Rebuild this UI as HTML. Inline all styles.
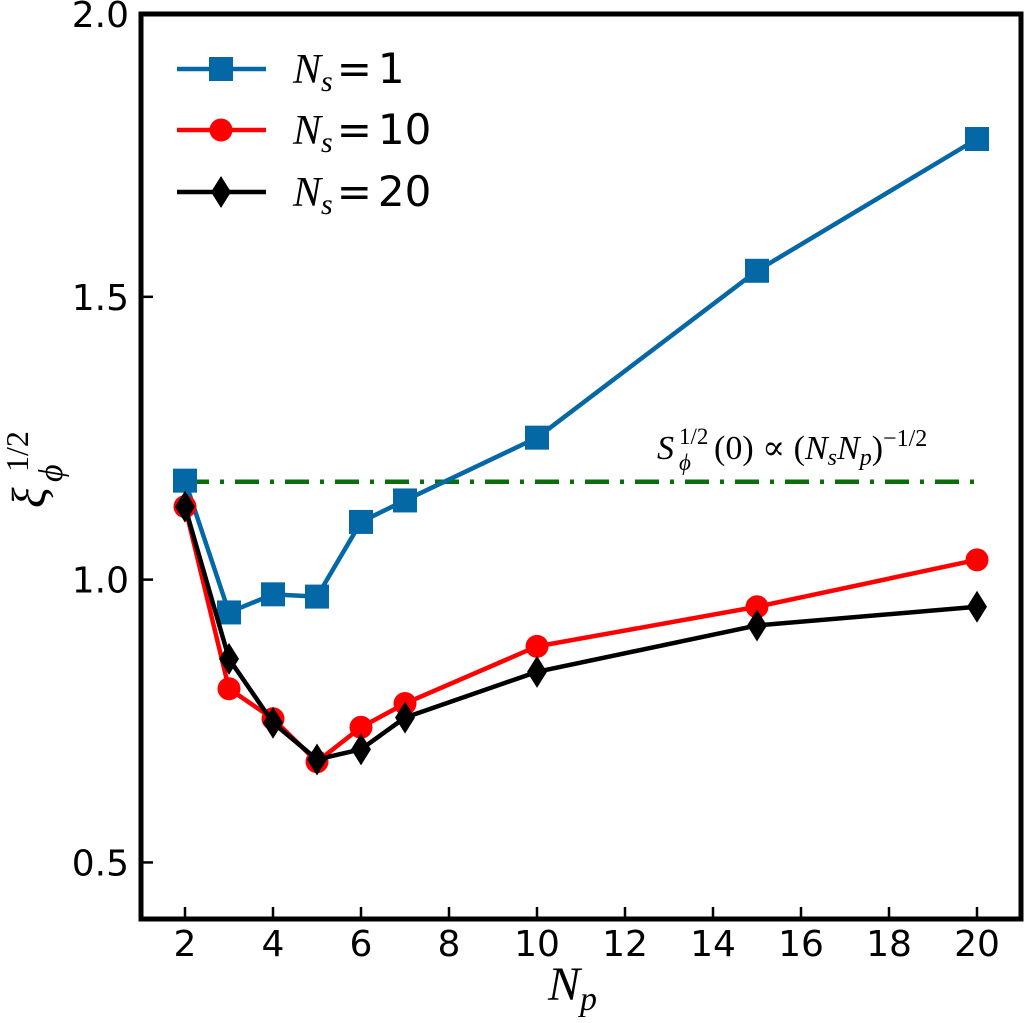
<!DOCTYPE html>
<html><head><meta charset="utf-8"><style>
html,body{margin:0;padding:0;background:#fff;}
svg{display:block;}
text{font-family:"DejaVu Sans","Liberation Sans",sans-serif;}
.serif{font-family:"Liberation Serif","DejaVu Serif",serif;font-style:italic;}
.rom{font-family:"Liberation Serif","DejaVu Serif",serif;}
</style></head><body>
<svg id="chart" width="1025" height="1023" viewBox="0 0 1025 1023">
<g id="plot"></g>
<g id="axes"></g>
<g>
  <g>
    <line x1="177" y1="69" x2="266" y2="69" stroke="#0568a6" stroke-width="4.5"/>
    <rect x="209" y="57" width="24" height="24" fill="#0568a6"/>
    <text x="293" y="83" font-size="42"><tspan class="serif">N</tspan><tspan class="serif" font-size="30" dy="8">s</tspan><tspan dy="-8" dx="4">=</tspan><tspan dx="6">1</tspan></text>
  </g>
  <g>
    <line x1="177" y1="130" x2="266" y2="130" stroke="#ff0000" stroke-width="4.5"/>
    <circle cx="221" cy="130" r="11.5" fill="#ff0000"/>
    <text x="293" y="144" font-size="42"><tspan class="serif">N</tspan><tspan class="serif" font-size="30" dy="8">s</tspan><tspan dy="-8" dx="4">=</tspan><tspan dx="6">10</tspan></text>
  </g>
  <g>
    <line x1="177" y1="192" x2="266" y2="192" stroke="#000" stroke-width="4.5"/>
    <polygon points="221,176 231,192 221,208 211,192" fill="#000"/>
    <text x="293" y="206" font-size="42"><tspan class="serif">N</tspan><tspan class="serif" font-size="30" dy="8">s</tspan><tspan dy="-8" dx="4">=</tspan><tspan dx="6">20</tspan></text>
  </g>
</g>
<g>
  <text x="657" y="459" font-size="34" class="serif">S</text>
  <text x="679" y="444" font-size="23" class="rom">1/2</text>
  <text x="679" y="470" font-size="23" class="serif">ϕ</text>
  <text x="714" y="459" font-size="34" class="rom">(0) ∝ (<tspan font-style="italic">N</tspan><tspan font-style="italic" font-size="24" dy="6">s</tspan><tspan font-style="italic" dy="-6">N</tspan><tspan font-style="italic" font-size="24" dy="6">p</tspan><tspan dy="-6">)</tspan><tspan font-size="24" dy="-13">−1/2</tspan></text>
</g>
<text x="548" y="1000" font-size="48"><tspan class="serif">N</tspan><tspan class="serif" font-size="34" dy="10">p</tspan></text>
<g transform="rotate(-90)">
  <text x="-508" y="45" font-size="48" class="serif">ξ</text>
  <text x="-482" y="62" font-size="34" class="serif">ϕ</text>
  <text x="-472" y="28" font-size="32" class="rom">1/2</text>
</g>
</svg>
<script>
const xs = [2,3,4,5,6,7,10,15,20];
const ns1 = [1.175,0.942,0.974,0.970,1.102,1.140,1.251,1.546,1.779];
const ns10 = [1.129,0.807,0.754,0.678,0.739,0.781,0.882,0.952,1.035];
const ns20 = [1.129,0.860,0.747,0.682,0.700,0.756,0.837,0.919,0.952];
const refLevel = 1.173;
const xTicks = [2,4,6,8,10,12,14,16,18,20];
const yTicks = [0.5,1.0,1.5,2.0];
const yTickLabels = ["0.5","1.0","1.5","2.0"];

const L=141,R=1021,T=14,B=919;
const X0=1,X1=21,Y0=0.4,Y1=2.0;
function sx(v){return L+(v-X0)/(X1-X0)*(R-L);}
function sy(v){return B-(v-Y0)/(Y1-Y0)*(B-T);}
const NS='http://www.w3.org/2000/svg';
function mk(tag,attrs,parent){const e=document.createElementNS(NS,tag);for(const k in attrs)e.setAttribute(k,attrs[k]);parent.appendChild(e);return e;}
const plot=document.getElementById('plot');
const axes=document.getElementById('axes');

const rl=mk('line',{x1:sx(2),x2:sx(20),y1:sy(refLevel),y2:sy(refLevel),stroke:'#0a6e0a','stroke-width':4.5,'stroke-dasharray':'24,11,4,11'},plot);



function series(vals,color,marker,name){
  const g=mk('g',{},plot);
  
  
  const pts=xs.map((x,i)=>sx(x)+','+sy(vals[i])).join(' ');
  const pl=mk('polyline',{points:pts,fill:'none',stroke:color,'stroke-width':4.5,'stroke-linejoin':'round'},g);
  
  
  xs.forEach((x,i)=>{
    const cx=sx(x),cy=sy(vals[i]);let m;
    if(marker==='s')m=mk('rect',{x:cx-12,y:cy-12,width:24,height:24,fill:color},g);
    else if(marker==='o')m=mk('circle',{cx:cx,cy:cy,r:11.5,fill:color},g);
    else m=mk('polygon',{points:`${cx},${cy-16} ${cx+10},${cy} ${cx},${cy+16} ${cx-10},${cy}`,fill:color},g);
    
    
  });
}
series(ns1,'#0568a6','s','series-ns1');
series(ns10,'#ff0000','o','series-ns10');
series(ns20,'#000000','d','series-ns20');

const fr=mk('rect',{x:L,y:T,width:R-L,height:B-T,fill:'none',stroke:'#000','stroke-width':5},axes);


xTicks.forEach(v=>{
  const t=mk('line',{x1:sx(v),x2:sx(v),y1:B,y2:B-12,stroke:'#000','stroke-width':2.5},axes);
  
  
  const l=mk('text',{x:sx(v),y:B+37,'font-size':36,'text-anchor':'middle'},axes);
  l.textContent=v;
  
  
});
yTicks.forEach((v,i)=>{
  const t=mk('line',{x1:L,x2:L+12,y1:sy(v),y2:sy(v),stroke:'#000','stroke-width':2.5},axes);
  
  
  const l=mk('text',{x:L-12,y:sy(v)+13,'font-size':36,'text-anchor':'end'},axes);
  l.textContent=yTickLabels[i];
  
  
});
</script>
</body></html>
